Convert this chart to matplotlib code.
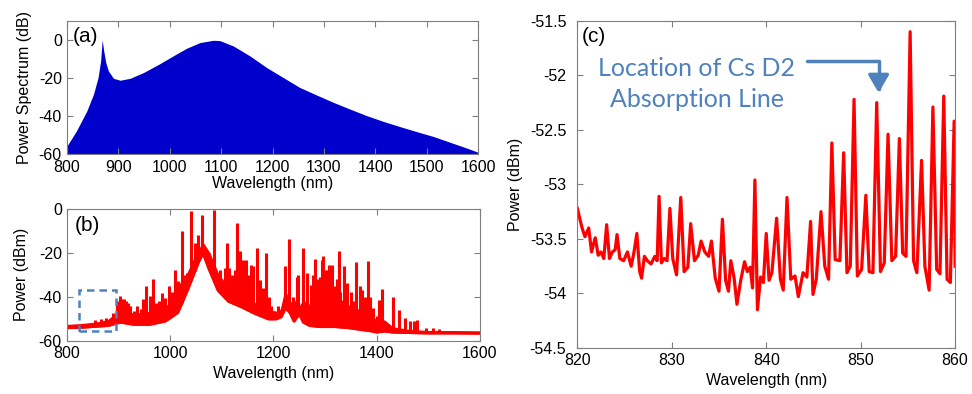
import numpy as np
import matplotlib
matplotlib.use("Agg")
import matplotlib.pyplot as plt
from matplotlib.patches import Rectangle

plt.rcParams['font.family'] = ['Liberation Sans', 'DejaVu Sans']
plt.rcParams['axes.unicode_minus'] = False

# --- (a) simulated supercontinuum power spectrum (dB) ---
a_wl = [800, 819, 839, 852, 861, 866, 869, 872, 876, 881, 891, 904, 923, 949, 981,
        1007, 1033, 1059, 1085, 1098, 1124, 1156, 1189, 1221, 1253, 1286, 1318, 1350,
        1383, 1415, 1448, 1480, 1512, 1545, 1577, 1600]
a_db = [-56, -47.8, -37.4, -28.6, -19.8, -11, 0, -5.8, -11.9, -16.3, -20.2, -21.2,
        -20.2, -17.2, -12.5, -8.4, -4.4, -1.4, -0.2, -0.4, -3.2, -8.4, -14.6, -19.8,
        -25, -29, -32.8, -36.3, -39.8, -42.8, -45.6, -48.2, -50.7, -53.8, -56.8, -59.1]

# --- (b) measured spectrum: dense band (lower / upper edge) plus resolved lines ---
b_env_wl = [800, 830, 860, 880, 895, 905, 930, 960, 990, 1000, 1015, 1035, 1055, 1064,
            1075, 1093, 1113, 1138, 1164, 1190, 1205, 1215, 1223, 1232, 1240, 1250,
            1258, 1270, 1290, 1320, 1345, 1375, 1390, 1400, 1415, 1430, 1460, 1500,
            1550, 1600]
b_env_lo = [-54, -53.8, -53.3, -53, -52, -51.5, -52.5, -52.5, -51, -49.5, -47, -36, -24,
            -20, -27, -37, -42, -44.5, -47.5, -50, -50, -49, -45, -47, -51, -47.5, -51.5,
            -53, -53.5, -53.5, -54, -55, -55.5, -56, -55.5, -56, -56.2, -56.4, -56.4, -56.5]
b_env_hi = [-53, -52.6, -51.8, -50.8, -48, -46, -48, -47, -45, -43, -36, -29, -19, -16,
            -20, -30, -36, -40, -43, -46, -47, -46, -38, -43, -42, -45, -42, -44, -38,
            -40, -44, -47, -49, -51, -51, -54, -55.2, -55.8, -55.8, -56]
b_line_wl = [855, 866, 876, 889, 897, 903, 907, 911, 915, 918, 923, 931, 937, 944, 948,
             953, 962, 968, 973, 979, 984, 991, 999, 1004, 1009, 1016, 1023, 1028, 1033,
             1041, 1048, 1055, 1061, 1075, 1086, 1097, 1106, 1110, 1115, 1120, 1125, 1129,
             1135, 1141, 1148, 1152, 1157, 1161, 1168, 1174, 1180, 1186, 1192, 1196, 1210,
             1222, 1231, 1238, 1245, 1248, 1257, 1266, 1272, 1277, 1281, 1284, 1287, 1290,
             1294, 1296, 1300, 1303, 1307, 1310, 1313, 1318, 1323, 1328, 1330, 1336, 1339,
             1343, 1350, 1355, 1360, 1368, 1372, 1378, 1384, 1388, 1393, 1401, 1405, 1410,
             1431, 1444, 1454, 1465, 1473, 1479, 1495, 1510, 1520]
b_line_dbm = [-50.5, -50, -49.5, -47.5, -42, -39.8, -41, -41, -42, -43, -44, -46.5, -44,
              -45.5, -41, -35, -39.8, -32, -43, -42, -38.3, -40.5, -35.3, -38, -28, -33,
              -10.3, -30, -29, -1.2, -15.6, -11.8, -2.7, -20.2, -0.5, -28, -27, -15.6, -27,
              -30, -28, -6.5, -19.4, -23.2, -23.2, -30, -25.5, -26.2, -17.9, -32.3, -36,
              -20.2, -40, -44, -44, -26.2, -13.8, -40, -30.8, -30, -17.9, -29.3, -34.5,
              -30, -22.9, -32, -34.5, -30.8, -23.2, -21.4, -28, -27.7, -25.5, -30, -25.5,
              -35, -32, -19.4, -38, -26.2, -35.3, -33.5, -38, -42, -24, -35.3, -37, -40,
              -23.9, -40, -45, -48.8, -41.4, -36.6, -40.2, -46, -49.7, -51.2, -51.2, -50.5,
              -54, -54.2, -54.5]
b_zoom_wl = (824, 895)
b_zoom_dbm = (-55.5, -37)

# --- (c) zoom 820-860 nm ---
c_wl = [820.0, 820.3, 820.5, 820.8, 821.0, 821.2, 821.5, 821.7, 821.9, 822.2, 822.5, 822.8,
        823.1, 823.4, 823.7, 824.0, 824.2, 824.5, 824.9, 825.3, 825.7, 826.0, 826.3, 826.6,
        826.8, 827.1, 827.4, 827.8, 828.2, 828.45, 828.65, 828.9, 829.2, 829.5, 829.8, 830.1,
        830.5, 830.95, 831.3, 831.7, 832.0, 832.4, 832.8, 833.1, 833.5, 833.9, 834.2, 834.6,
        835.0, 835.36, 835.7, 836.0, 836.25, 836.6, 836.9, 837.3, 837.7, 838.0, 838.3,
        838.55, 838.8, 839.07, 839.4, 839.7, 840.0, 840.3, 840.6, 841.1, 841.5, 841.8, 842.2,
        842.6, 843.05, 843.4, 843.9, 844.3, 844.7, 844.95, 845.3, 845.8, 846.2, 846.6,
        846.95, 847.3, 847.8, 848.2, 848.55, 848.9, 849.3, 849.65, 850.1, 850.55, 850.9,
        851.3, 851.7, 852.1, 852.5, 852.9, 853.3, 853.7, 854.1, 854.45, 854.8, 855.24,
        855.6, 855.95, 856.45, 856.8, 857.25, 857.65, 858.05, 858.4, 858.8, 859.15, 859.5,
        859.9, 860.0]
c_dbm = [-53.22, -53.33, -53.40, -53.48, -53.44, -53.40, -53.62, -53.55, -53.49, -53.65,
         -53.62, -53.68, -53.37, -53.68, -53.62, -53.60, -53.46, -53.68, -53.70, -53.62,
         -53.75, -53.62, -53.45, -53.80, -53.86, -53.66, -53.70, -53.73, -53.66, -53.70,
         -53.11, -53.72, -53.68, -53.70, -53.22, -53.68, -53.83, -53.12, -53.80, -53.76,
         -53.36, -53.70, -53.65, -53.52, -53.62, -53.66, -53.52, -53.86, -53.98, -53.32,
         -53.88, -53.98, -53.70, -53.86, -54.10, -53.88, -53.71, -53.80, -53.76, -53.95,
         -52.96, -54.15, -53.85, -53.90, -53.45, -53.88, -53.81, -53.31, -53.87, -53.97,
         -53.12, -53.87, -53.84, -54.03, -53.81, -53.85, -53.34, -54.01, -53.87, -53.25,
         -53.75, -53.87, -52.62, -53.69, -53.70, -52.71, -53.81, -53.75, -52.22, -53.84,
         -53.78, -53.10, -53.80, -53.81, -52.25, -53.80, -53.72, -52.54, -53.70, -53.66,
         -52.58, -53.63, -53.66, -51.60, -53.70, -53.81, -52.78, -53.75, -53.97, -52.29,
         -53.78, -53.82, -52.19, -53.87, -53.90, -52.42, -53.75]
cs_d2_wl = 851.9

RED = '#ff0000'
BLUE = '#0000cd'
NOTE = '#4f81bd'
FRAME = '#7f7f7f'
FS = 11.5


def style(ax, ypad=3.5):
    for s in ax.spines.values():
        s.set_color(FRAME)
    ax.tick_params(direction='in', top=True, right=True, length=4, color=FRAME,
                   labelsize=FS)
    ax.tick_params(axis='x', pad=4)
    ax.tick_params(axis='y', pad=ypad)


fig = plt.figure(figsize=(9.72, 3.94), dpi=100)

# (a)
ax_a = fig.add_axes([0.0686, 0.609, 0.4235, 0.338])
ax_a.fill_between(a_wl, -60, a_db, color=BLUE, lw=0)
ax_a.set_xlim(800, 1600)
ax_a.set_ylim(-60, 10)
ax_a.set_xticks(range(800, 1601, 100))
ax_a.set_yticks([-60, -40, -20, 0])
ax_a.set_xlabel('Wavelength (nm)', fontsize=FS, labelpad=1)
ax_a.set_ylabel('Power Spectrum (dB)', fontsize=FS, labelpad=5)
ax_a.text(0.015, 0.885, '(a)', transform=ax_a.transAxes, fontsize=15, va='center')
style(ax_a)

# (b)
ax_b = fig.add_axes([0.0686, 0.135, 0.4252, 0.335])
ax_b.fill_between(b_env_wl, b_env_lo, b_env_hi, color=RED, lw=1.5, ec=RED)
ax_b.plot(b_env_wl, b_env_lo, color=RED, lw=2.2)
base = np.interp(b_line_wl, b_env_wl, b_env_lo)
ax_b.vlines(b_line_wl, base, b_line_dbm, color=RED, lw=2.2)
ax_b.add_patch(Rectangle((b_zoom_wl[0], b_zoom_dbm[0]), b_zoom_wl[1] - b_zoom_wl[0],
                         b_zoom_dbm[1] - b_zoom_dbm[0], fill=False, ec=NOTE,
                         ls=(0, (3, 2)), lw=1.8, zorder=5))
ax_b.set_xlim(800, 1600)
ax_b.set_ylim(-60, 0)
ax_b.set_xticks(range(800, 1601, 200))
ax_b.set_yticks([-60, -40, -20, 0])
ax_b.set_xlabel('Wavelength (nm)', fontsize=FS, labelpad=3)
ax_b.set_ylabel('Power (dBm)', fontsize=FS, labelpad=7)
ax_b.text(0.02, 0.875, '(b)', transform=ax_b.transAxes, fontsize=15, va='center')
style(ax_b)

# (c)
ax_c = fig.add_axes([0.594, 0.117, 0.3886, 0.83])
ax_c.plot(c_wl, c_dbm, color=RED, lw=2.3)
ax_c.set_xlim(820, 860)
ax_c.set_ylim(-54.5, -51.5)
ax_c.set_xticks(range(820, 861, 10))
yt = np.arange(-54.5, -51.4, 0.5)
ax_c.set_yticks(yt)
ax_c.set_yticklabels(['%g' % v for v in yt])
ax_c.set_xlabel('Wavelength (nm)', fontsize=FS, labelpad=3)
ax_c.set_ylabel('Power (dBm)', fontsize=FS, labelpad=5)
ax_c.text(0.012, 0.953, '(c)', transform=ax_c.transAxes, fontsize=15, va='center')
ax_c.text(832.65, -52.08, 'Location of Cs D2\nAbsorption Line', color=NOTE,
          family=['Lato', 'DejaVu Sans'], fontsize=18, ha='center', va='center',
          linespacing=1.45)
ax_c.annotate('', xy=(cs_d2_wl, -52.16), xytext=(844.3, -51.87),
              arrowprops=dict(arrowstyle='-|>,head_width=0.35,head_length=0.6',
                              connectionstyle='angle,angleA=0,angleB=90,rad=0',
                              color=NOTE, lw=2.5, shrinkA=0, shrinkB=0,
                              mutation_scale=18))
style(ax_c, ypad=8)

fig.savefig('out.png', dpi=100)
